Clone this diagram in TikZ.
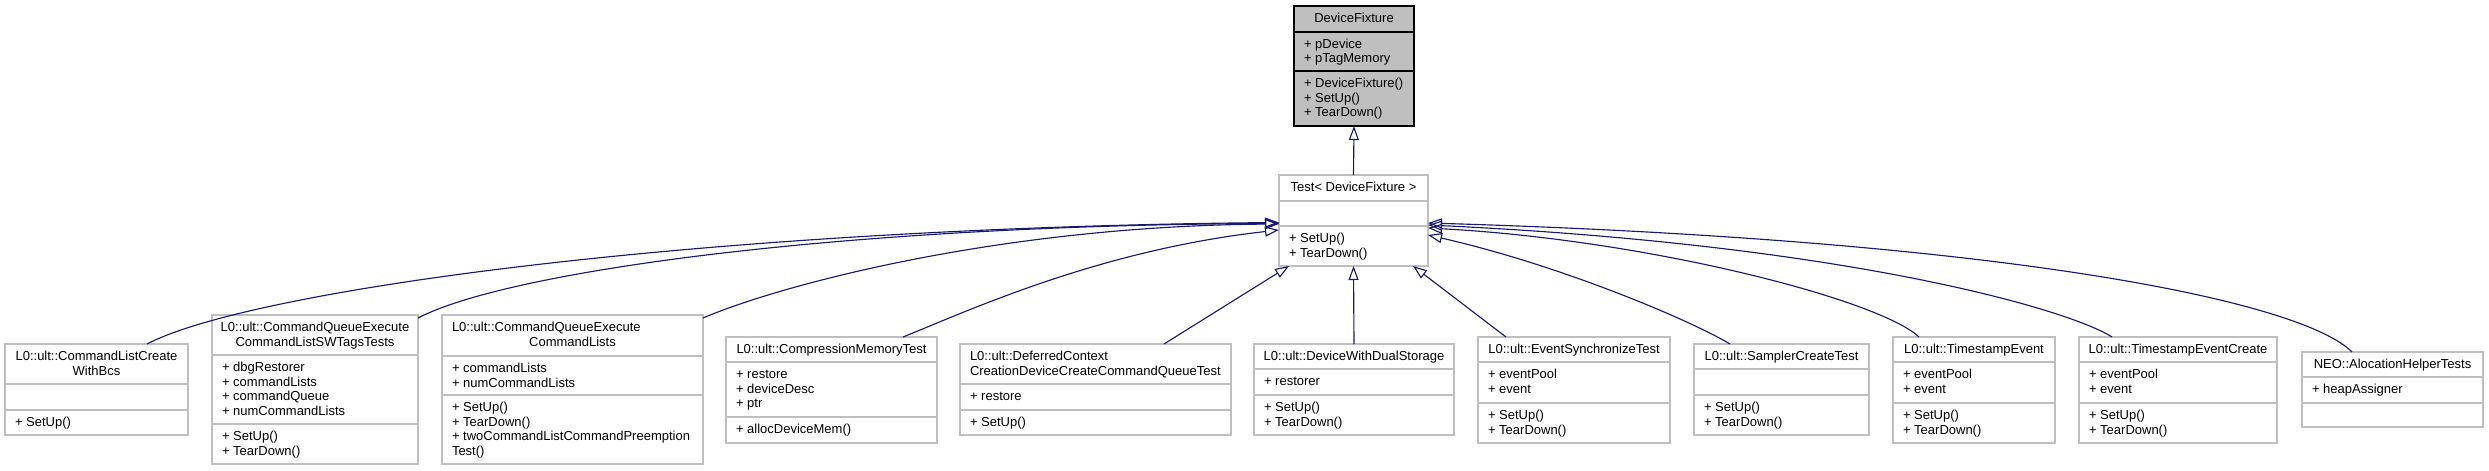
\documentclass[tikz,border=0pt]{standalone}
\usepackage{fontspec}
\setmainfont{Liberation Sans}
\usetikzlibrary{arrows.meta,calc}
\definecolor{edgeblue}{RGB}{25,25,112}
\definecolor{boxgray}{RGB}{191,191,191}
\definecolor{dfgray}{RGB}{191,191,191}
\tikzset{
  clsframe/.style={draw=boxgray,fill=white,line width=0.8pt},
  dfframe/.style={draw=black,fill=dfgray,line width=0.8pt},
  txt/.style={font=\fontsize{9.75}{11}\selectfont,inner sep=0pt,outer sep=0pt},
  inh/.style={draw=edgeblue,line width=0.85pt,-{Triangle[open,length=10.5pt,width=7.5pt]}},
}
% name, x1, y1, x2, y2, d1, d2, frame style, divider colour
\newcommand\clsbox[9]{%
  \pgfmathsetmacro\clsbw{(#4-#2)*0.75}%
  \pgfmathsetmacro\clsbh{(#5-#3)*0.75}%
  \node[#8,inner sep=0pt,outer sep=0pt,minimum width=\clsbw pt,minimum height=\clsbh pt,anchor=north west] (#1) at (#2,#3) {};
  \draw[draw=#9,line width=0.8pt] (#2,#6) -- (#4,#6) (#2,#7) -- (#4,#7);
}
\newcommand\clsleft[4]{\foreach \s [count=\i] in {#4}{\node[txt,anchor=base west] (#1-\i) at ({#2},{#3+14.67*(\i-1)}) {\s};}}
\newcommand\clscenter[4]{\foreach \s [count=\i] in {#4}{\node[txt,anchor=base] (#1-\i) at ({#2},{#3+14.67*(\i-1)}) {\s};}}
\begin{document}
\begin{tikzpicture}[x=0.75pt,y=-0.75pt]
\fill[white] (0,0) rectangle (2489,471);
\useasboundingbox (0,0) rectangle (2489,471);

% DeviceFixture
\clsbox{df}{1294}{6}{1414}{126}{32}{71}{dfframe}{black}
\clscenter{dft}{1354}{22.5}{DeviceFixture}
\clsleft{dfa}{1304}{48}{+ pDevice,+ pTagMemory}
\clsleft{dfm}{1304}{87.5}{+ DeviceFixture(),+ SetUp(),+ TearDown()}

% Test< DeviceFixture >
\clsbox{t}{1279}{175}{1428}{266}{201}{226}{clsframe}{boxgray}
\clscenter{tt}{1353.5}{191.5}{Test< DeviceFixture >}
\clsleft{tm}{1289}{242.5}{+ SetUp(),+ TearDown()}

% b1
\clsbox{b1}{5}{344}{188}{435}{384}{410}{clsframe}{boxgray}
\clscenter{b1t}{96.5}{360.5}{L0::ult::CommandListCreate,WithBcs}
\clsleft{b1m}{15}{426.5}{+ SetUp()}

% b2
\clsbox{b2}{212}{315}{418}{464}{355}{424}{clsframe}{boxgray}
\clscenter{b2t}{315}{331.5}{L0::ult::CommandQueueExecute,CommandListSWTagsTests}
\clsleft{b2a}{222}{371.5}{+ dbgRestorer,+ commandLists,+ commandQueue,+ numCommandLists}
\clsleft{b2m}{222}{440.5}{+ SetUp(),+ TearDown()}

% b3
\clsbox{b3}{442}{315}{703}{464}{356}{395}{clsframe}{boxgray}
\clsleft{b3t}{452}{331.5}{L0::ult::CommandQueueExecute}
\clscenter{b3u}{572.5}{346.2}{CommandLists}
\clsleft{b3a}{452}{372.5}{+ commandLists,+ numCommandLists}
\clsleft{b3m}{452}{411.5}{+ SetUp(),+ TearDown(),+ twoCommandListCommandPreemption,Test()}

% b4
\clsbox{b4}{726}{337}{937}{443}{362}{417}{clsframe}{boxgray}
\clscenter{b4t}{831.5}{353.5}{L0::ult::CompressionMemoryTest}
\clsleft{b4a}{736}{378.5}{+ restore,+ deviceDesc,+ ptr}
\clsleft{b4m}{736}{433.5}{+ allocDeviceMem()}

% b5
\clsbox{b5}{960}{344}{1231}{435}{384}{410}{clsframe}{boxgray}
\clsleft{b5t}{970}{360.5}{L0::ult::DeferredContext,CreationDeviceCreateCommandQueueTest}
\clsleft{b5a}{970}{400.5}{+ restore}
\clsleft{b5m}{970}{426.5}{+ SetUp()}

% b6
\clsbox{b6}{1254}{344}{1454}{435}{369}{395}{clsframe}{boxgray}
\clscenter{b6t}{1354}{360.5}{L0::ult::DeviceWithDualStorage}
\clsleft{b6a}{1264}{385.5}{+ restorer}
\clsleft{b6m}{1264}{411.5}{+ SetUp(),+ TearDown()}

% b7
\clsbox{b7}{1478}{337}{1670}{443}{362}{403}{clsframe}{boxgray}
\clscenter{b7t}{1574}{353.5}{L0::ult::EventSynchronizeTest}
\clsleft{b7a}{1488}{378.5}{+ eventPool,+ event}
\clsleft{b7m}{1488}{419.5}{+ SetUp(),+ TearDown()}

% b8
\clsbox{b8}{1694}{344}{1869}{435}{369}{395}{clsframe}{boxgray}
\clscenter{b8t}{1781.5}{360.5}{L0::ult::SamplerCreateTest}
\clsleft{b8m}{1704}{411.5}{+ SetUp(),+ TearDown()}

% b9
\clsbox{b9}{1893}{337}{2055}{443}{362}{403}{clsframe}{boxgray}
\clscenter{b9t}{1974}{353.5}{L0::ult::TimestampEvent}
\clsleft{b9a}{1903}{378.5}{+ eventPool,+ event}
\clsleft{b9m}{1903}{419.5}{+ SetUp(),+ TearDown()}

% b10
\clsbox{b10}{2079}{337}{2277}{443}{362}{403}{clsframe}{boxgray}
\clscenter{b10t}{2178}{353.5}{L0::ult::TimestampEventCreate}
\clsleft{b10a}{2089}{378.5}{+ eventPool,+ event}
\clsleft{b10m}{2089}{419.5}{+ SetUp(),+ TearDown()}

% b11
\clsbox{b11}{2302}{352}{2483}{427}{377}{403}{clsframe}{boxgray}
\clscenter{b11t}{2392.5}{368.5}{NEO::AlocationHelperTests}
\clsleft{b11a}{2312}{393.5}{+ heapAssigner}

% edges
\draw[inh] (t.north) -- (df.south);
\draw[inh] ($(b1.north west)+(142,0)$) .. controls (250,290) and (700,228) .. ($(t.west)+(0,2)$);
\draw[inh] ($(b2.north east)+(0,3)$) .. controls (510,270) and (850,225) .. ($(t.west)+(0,3)$);
\draw[inh] ($(b3.north east)+(0,3)$) .. controls (780,285) and (1000,226) .. ($(t.west)+(0,3.5)$);
\draw[inh] ($(b4.north west)+(177,0)$) .. controls (970,310) and (1100,250) .. ($(t.west)+(0,9.5)$);
\draw[inh] ($(b5.north west)+(204,0)$) -- ($(t.south west)+(10,0)$);
\draw[inh] (b6.north) -- (t.south);
\draw[inh] ($(b7.north west)+(28,0)$) -- ($(t.south east)+(-15,0)$);
\draw[inh] ($(b8.north west)+(36,0)$) .. controls (1690,320) and (1560,265) .. ($(t.east)+(0,14.5)$);
\draw[inh] ($(b9.north west)+(26,0)$) .. controls (1880,300) and (1650,240) .. ($(t.east)+(0,7.5)$);
\draw[inh] ($(b10.north west)+(33,0)$) .. controls (2070,310) and (1850,245) .. ($(t.east)+(0,4.5)$);
\draw[inh] ($(b11.north west)+(50,0)$) .. controls (2300,300) and (2000,240) .. ($(t.east)+(0,2.5)$);
\end{tikzpicture}
\end{document}
